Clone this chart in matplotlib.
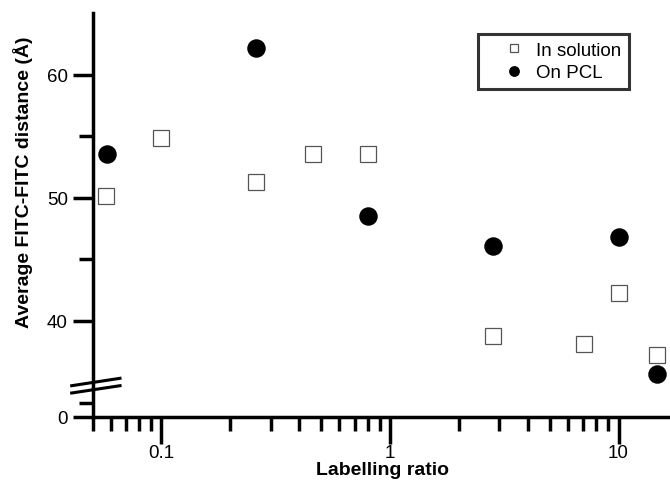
import matplotlib
matplotlib.use("Agg")
import matplotlib.pyplot as plt
from matplotlib.lines import Line2D
from matplotlib.ticker import LogLocator, FixedLocator, NullFormatter, FixedFormatter

plt.rcParams['font.family'] = ['Liberation Sans', 'DejaVu Sans']

# data
sol_x = [0.057, 0.10, 0.26, 0.46, 0.80, 2.82, 7.06, 10.0, 14.7]
sol_y = [50.2, 54.9, 51.3, 53.6, 53.6, 38.8, 38.1, 42.3, 37.2]
pcl_x = [0.058, 0.26, 0.80, 2.82, 10.0, 14.7]
pcl_y = [53.6, 62.2, 48.5, 46.1, 46.8, 35.7]

W, H = 670, 485
fig = plt.figure(figsize=(W / 100, H / 100), dpi=100)

x0 = 92.7       # y spine, px
top = 14        # top of axis, px
brk = 390       # boundary between the two panels, px
zero = 417.5    # x axis, px

L = x0 / W
ax = fig.add_axes([L, (H - brk) / H, 1 - L, (brk - top) / H])
axb = fig.add_axes([L, (H - zero) / H, 1 - L, (zero - brk) / H], sharex=ax)

lw = 2.5
for a in (ax, axb):
    a.set_facecolor('none')
    for s in ('top', 'right'):
        a.spines[s].set_visible(False)
    a.spines['left'].set_linewidth(lw)
    a.spines['bottom'].set_linewidth(lw)
ax.spines['bottom'].set_visible(False)

ax.plot(sol_x, sol_y, ls='none', marker='s', ms=11.5, mfc='white', mec='#555555',
        mew=0.9, label='In solution', clip_on=False)
ax.plot(pcl_x, pcl_y, ls='none', marker='o', ms=12.3, mfc='black', mec='black',
        label='On PCL', clip_on=False)

ax.set_xscale('log')
ax.set_xlim(0.05, 16.8)
ax.set_ylim(34.47, 65.04)
axb.set_ylim(0, 2.1)

# upper panel y ticks
ax.yaxis.set_major_locator(FixedLocator([40, 50, 60]))
ax.yaxis.set_minor_locator(FixedLocator([45, 55]))
ax.tick_params(axis='y', which='major', length=14.4, width=lw, labelsize=13.5, pad=3.5)
ax.tick_params(axis='y', which='minor', length=10, width=lw)
ax.tick_params(axis='x', which='both', bottom=False, labelbottom=False)

# lower panel
axb.yaxis.set_major_locator(FixedLocator([0]))
axb.yaxis.set_minor_locator(FixedLocator([1]))
axb.tick_params(axis='y', which='major', length=14.4, width=lw, labelsize=13.5, pad=3.5)
axb.tick_params(axis='y', which='minor', length=10, width=lw)

axb.xaxis.set_major_locator(FixedLocator([0.1, 1, 10]))
axb.xaxis.set_major_formatter(FixedFormatter(['0.1', '1', '10']))
axb.xaxis.set_minor_locator(LogLocator(base=10, subs=range(2, 10), numticks=20))
axb.xaxis.set_minor_formatter(NullFormatter())
axb.tick_params(axis='x', which='major', length=19.5, width=lw, labelsize=13.5, pad=0.5)
axb.tick_params(axis='x', which='minor', length=10, width=lw)

# axis break marks
for y1, y2 in ((386.7, 379.3), (394.0, 386.7)):
    fig.add_artist(Line2D([71.7 / W, 120 / W], [1 - y1 / H, 1 - y2 / H],
                          color='black', lw=2.2))

fig.text(23 / W, 1 - 182 / H, 'Average FITC-FITC distance (\u00c5)', rotation=90,
         ha='center', va='center', fontsize=14, fontweight='bold')
fig.text(382 / W, 1 - 475 / H, 'Labelling ratio', ha='center', va='baseline',
         fontsize=14, fontweight='bold')

leg = ax.legend(loc='upper right', bbox_to_anchor=(629 / W, 1 - 35 / H),
                bbox_transform=fig.transFigure, borderaxespad=0, fontsize=13.5,
                frameon=True, fancybox=False, edgecolor='black', markerscale=0.55,
                handlelength=3.0, handletextpad=-0.3, borderpad=0.4, labelspacing=0.3)
leg.get_frame().set_linewidth(2.2)

fig.savefig('out.png', dpi=100)
